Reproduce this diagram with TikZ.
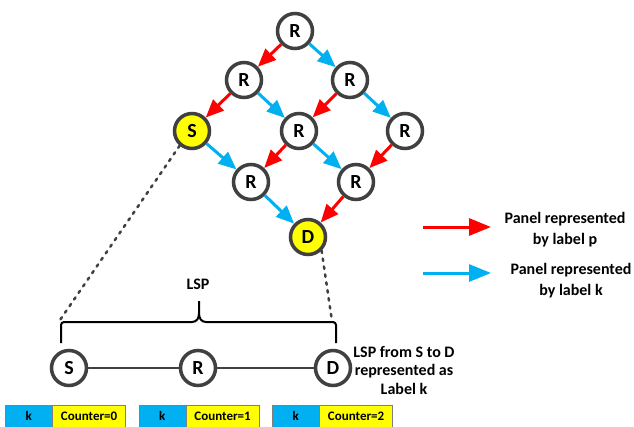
\documentclass[tikz,border=0pt]{standalone}
\usepackage{fontspec}
\setmainfont{Carlito}
\usepackage{xcolor}
\usetikzlibrary{arrows.meta}

\definecolor{panelred}{HTML}{FF0000}
\definecolor{panelblue}{HTML}{00B0F0}
\definecolor{nodeyellow}{HTML}{FFFF00}
\definecolor{ringgray}{HTML}{404040}

\begin{document}
\begin{tikzpicture}[x=1pt, y=-1pt,
  router/.style={circle, draw=ringgray, line width=3.5pt, fill=white,
    minimum size=35pt, inner sep=0pt, font=\fontsize{20}{20}\selectfont\bfseries},
  endpt/.style={router, fill=nodeyellow},
  plink/.style={-{Triangle[length=18pt,width=15pt]}, line width=3pt, panelred},
  klink/.style={plink, panelblue},
  bigtip/.style={-{Triangle[length=22pt,width=17pt]}},
  legend/.style={align=center, font=\fontsize{16}{21}\selectfont\bfseries},
  dashline/.style={ringgray, line width=2.5pt, line cap=round, dash pattern=on 2.5pt off 5.5pt},
  braceline/.style={black, line width=2pt},
  kcell/.style={rectangle, draw=gray, fill=panelblue, minimum width=47pt,
    minimum height=22pt, inner sep=0pt, font=\fontsize{13}{13}\selectfont\bfseries},
  ccell/.style={kcell, fill=nodeyellow, minimum width=73pt}]
 \useasboundingbox (0,0) rectangle (634,426);

 % the panel of routers
 \node[router] (r1) at (295,31) {R};
 \node[router] (r2) at (244,80) {R};
 \node[router] (r3) at (350,80) {R};
 \node[endpt] (s) at (192,131) {S};
 \node[router] (r4) at (299,131) {R};
 \node[router] (r5) at (405,131) {R};
 \node[router] (r6) at (251,182) {R};
 \node[router] (r7) at (356,182) {R};
 \node[endpt] (d) at (308,237) {D};

 \foreach \a/\b in {r1/r2, r2/s, r3/r4, r4/r6, r5/r7, r7/d}
  \draw[plink] (\a) -- (\b);
 \foreach \a/\b in {r1/r3, r2/r4, r3/r5, s/r6, r4/r7, r6/d}
  \draw[klink] (\a) -- (\b);

 % legend
 \coordinate (pa) at (423,227);
 \coordinate (pb) at (491,227);
 \coordinate (ka) at (423,273);
 \coordinate (kb) at (491,273);
 \draw[plink, bigtip] (pa) -- (pb);
 \draw[klink, bigtip] (ka) -- (kb);
 \node[legend] (ptext) at (565,230) {Panel represented\\by label p};
 \node[legend] (ktext) at (571,281) {Panel represented\\by label k};

 % the LSP itself
 \node[router] (s2) at (69,368) {S};
 \node[router] (r8) at (198,368) {R};
 \node[router] (d2) at (333,368) {D};
 \draw[ringgray, line width=2.5pt] (s2) -- (r8) -- (d2);

 \draw[braceline, rounded corners=3pt] (61,343) -- (61,322) -- (192,322);
 \draw[braceline] (192,322) .. controls (197,322) and (199,318) .. (199,313) -- (199,301);
 \draw[braceline] (206,322) .. controls (201,322) and (199,318) .. (199,313);
 \draw[braceline, rounded corners=3pt] (206,322) -- (336,322) -- (336,343);
 \node[legend] (lsp) at (198,284) {LSP};

 \coordinate (bl) at (60,320);
 \coordinate (br) at (332,321);
 \draw[dashline] (s.-130) -- (bl);
 \draw[dashline] (d.-45) -- (br);

 \node[legend, font=\fontsize{16}{18.5}\selectfont\bfseries] (note) at (404,370)
  {LSP from S to D\\represented as\\Label k};

 % label stack with counter under each hop
 \foreach \i in {0,1,2} {
  \node[kcell, anchor=west] (k\i) at (5+133.5*\i,416) {k};
  \node[ccell, anchor=west] (c\i) at (k\i.east) {Counter=\i};
 }
\end{tikzpicture}
\end{document}
